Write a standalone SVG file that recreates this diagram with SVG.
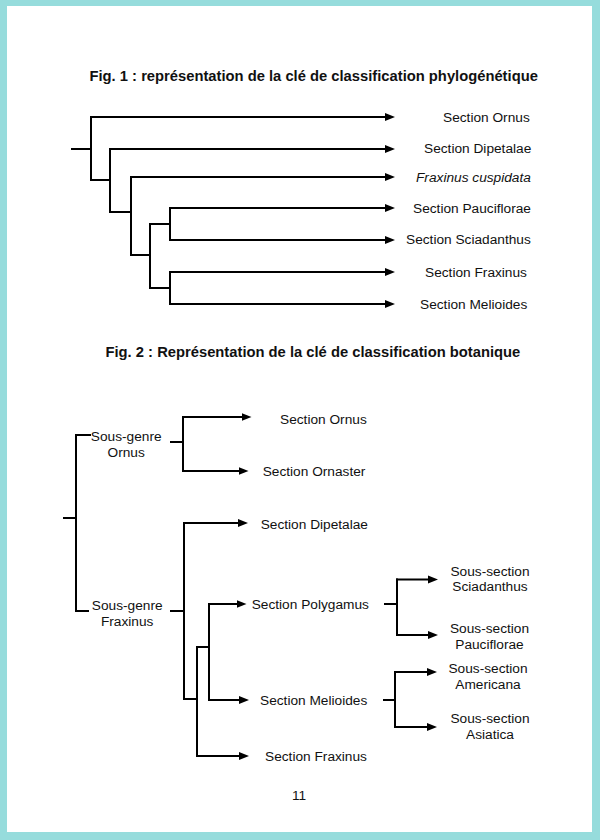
<svg xmlns="http://www.w3.org/2000/svg" width="600" height="840" viewBox="0 0 600 840">
<style>
.t{font-family:"Liberation Sans",Arial,sans-serif;font-size:13.7px;fill:#111}
.b{font-weight:bold;font-size:14.75px}
.i{font-style:italic}
.m{text-anchor:middle}
.c{fill:none;stroke:#000;stroke-width:2}
.a{marker-end:url(#ah)}
</style>
<defs>
<marker id="ah" markerUnits="userSpaceOnUse" viewBox="0 0 10 9" markerWidth="10" markerHeight="9" refX="4" refY="4.5" orient="auto">
<path d="M0,0.5 L10,4.5 L0,8.5 Z" fill="#000"/>
</marker>
</defs>
<rect x="0" y="0" width="600" height="840" fill="#96dcdc"/>
<rect x="7" y="6" width="585" height="826" fill="#ffffff"/>

<text class="t b" x="89.5" y="80.5">Fig. 1 : représentation de la clé de classification phylogénétique</text>
<text class="t b" x="105.5" y="357.3">Fig. 2 : Représentation de la clé de classification botanique</text>
<text class="t m" x="299" y="800">11</text>

<g id="connectors">
<!-- Fig 1 -->
<path class="c" d="M71,149 H91 M91,116 V181 M91,180 H111 M110,148 V213 M110,212 H132 M131,176 V256 M131,255 H151 M150,223 V289 M150,224 H171 M170,207 V241 M150,288 H171 M170,271 V305"/>
<path class="c a" d="M90,117 H389"/>
<path class="c a" d="M109,149 H389"/>
<path class="c a" d="M130,177 H389"/>
<path class="c a" d="M169,208 H389"/>
<path class="c a" d="M169,240 H389"/>
<path class="c a" d="M169,272 H389"/>
<path class="c a" d="M169,304 H389"/>
<!-- Fig 2 -->
<path class="c" d="M91,435 H76 V612 M75,611 H89 M63,518 H76"/>
<path class="c" d="M170,442 H183 M183,416 V472"/>
<path class="c a" d="M182,417 H245.5"/>
<path class="c a" d="M182,471 H242.5"/>
<path class="c" d="M170,611 H184 M184,522 V700 M183,699 H197 M197,646 V757 M196,647 H209 M209,603 V701"/>
<path class="c a" d="M183,523 H242"/>
<path class="c a" d="M208,604 H240.5"/>
<path class="c a" d="M208,700 H243"/>
<path class="c a" d="M196,756 H243"/>
<path class="c" d="M384,604 H397 M397,578.5 V636"/>
<path class="c a" d="M396,579.5 H432"/>
<path class="c a" d="M396,635 H432"/>
<path class="c" d="M383,700 H395 M395,671 V728"/>
<path class="c a" d="M394,672 H431"/>
<path class="c a" d="M394,727 H431"/>
</g>

<g id="fig1-ornus"><text class="t" x="443" y="122.3">Section Ornus</text></g>
<g id="fig1-dipetalae"><text class="t" x="424" y="153.3">Section Dipetalae</text></g>
<g id="fig1-cuspidata"><text class="t i" x="416" y="181.5">Fraxinus cuspidata</text></g>
<g id="fig1-pauciflorae"><text class="t" x="413" y="212.8">Section Pauciflorae</text></g>
<g id="fig1-sciadanthus"><text class="t" x="406" y="244">Section Sciadanthus</text></g>
<g id="fig1-fraxinus"><text class="t" x="425" y="277">Section Fraxinus</text></g>
<g id="fig1-melioides"><text class="t" x="420" y="308.8">Section Melioides</text></g>

<g id="fig2-sg-ornus"><text class="t m" x="126.2" y="441">Sous-genre</text><text class="t m" x="126.2" y="456.8">Ornus</text></g>
<g id="fig2-sg-fraxinus"><text class="t m" x="127.2" y="610">Sous-genre</text><text class="t m" x="127.2" y="625.5">Fraxinus</text></g>
<g id="fig2-ornus"><text class="t" x="280" y="424">Section Ornus</text></g>
<g id="fig2-ornaster"><text class="t" x="262.7" y="475.5">Section Ornaster</text></g>
<g id="fig2-dipetalae"><text class="t" x="260.7" y="529">Section Dipetalae</text></g>
<g id="fig2-polygamus"><text class="t" x="251.7" y="609.3">Section Polygamus</text></g>
<g id="fig2-melioides"><text class="t" x="260" y="705">Section Melioides</text></g>
<g id="fig2-fraxinus"><text class="t" x="265" y="761">Section Fraxinus</text></g>
<g id="fig2-sciadanthus"><text class="t m" x="490" y="575.7">Sous-section</text><text class="t m" x="490" y="591.2">Sciadanthus</text></g>
<g id="fig2-pauciflorae"><text class="t m" x="489.5" y="633.3">Sous-section</text><text class="t m" x="489.5" y="649">Pauciflorae</text></g>
<g id="fig2-americana"><text class="t m" x="488" y="672.7">Sous-section</text><text class="t m" x="488" y="689">Americana</text></g>
<g id="fig2-asiatica"><text class="t m" x="490" y="723.3">Sous-section</text><text class="t m" x="490" y="739">Asiatica</text></g>
</svg>
